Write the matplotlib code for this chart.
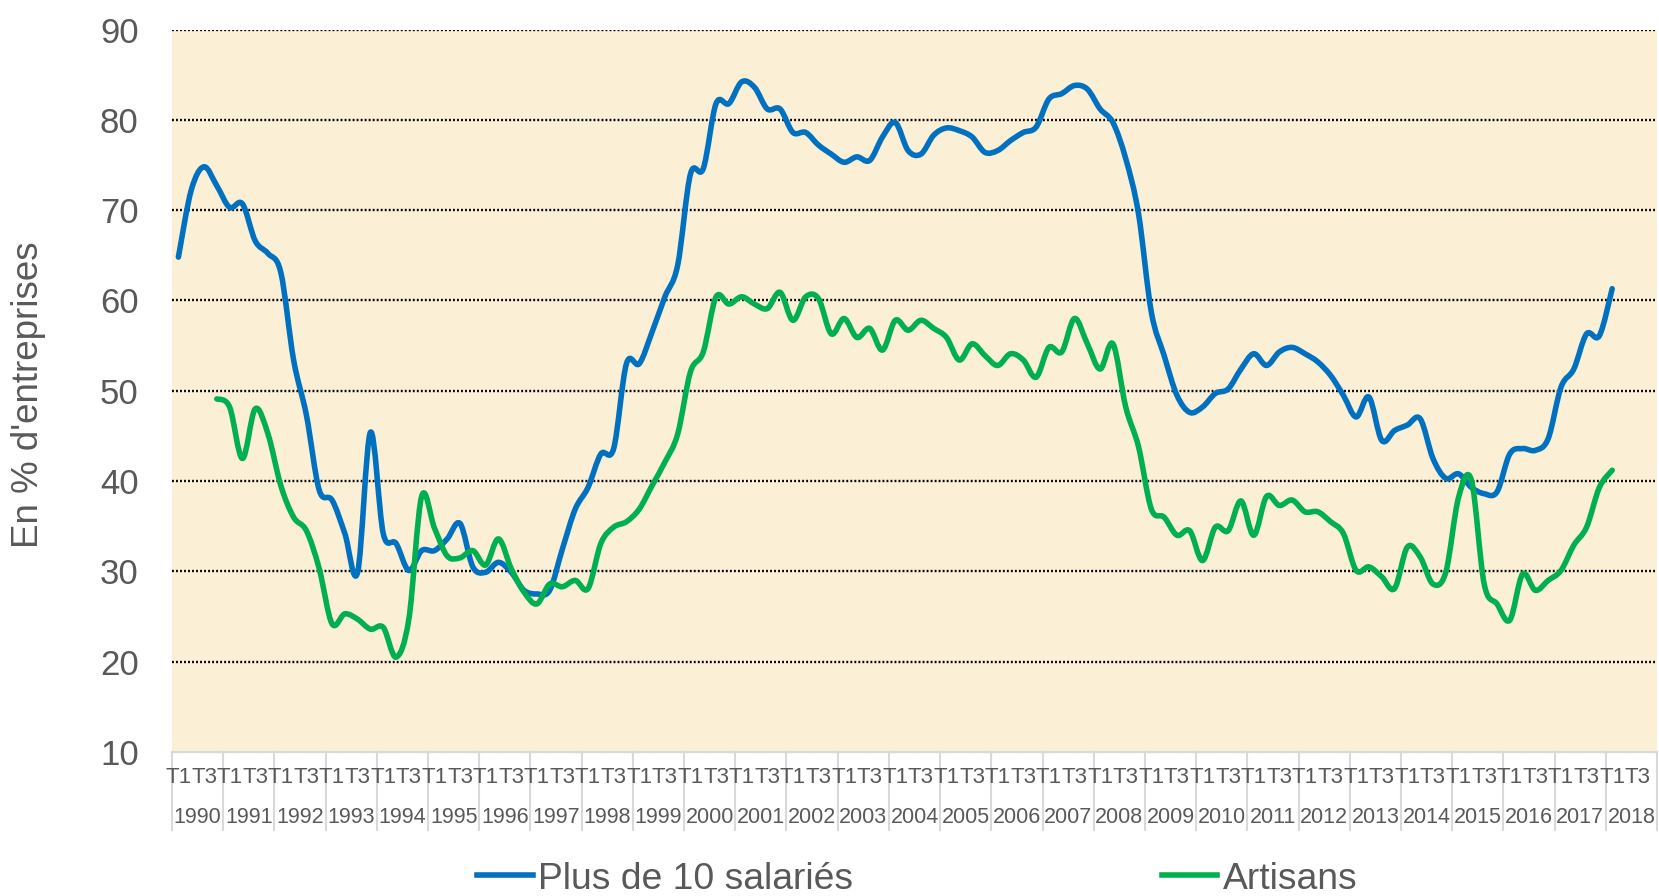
"""
Part des entreprises (en %) - Plus de 10 salariés vs Artisans, 1990-2018
"""

import numpy as np
import matplotlib
matplotlib.use('Agg')
import matplotlib.pyplot as plt
from matplotlib.path import Path
from matplotlib.patches import PathPatch
from matplotlib.lines import Line2D
from matplotlib.transforms import blended_transform_factory

plt.rcParams['font.family'] = ['Liberation Sans', 'DejaVu Sans']

# Colors
BLUE = '#0070C0'
GREEN = '#00B050'
TEXT_GREY = '#595959'
AXIS_GREY = '#D9D9D9'
PAPER = '#FBEFD6'

# Data (quarterly, 1990 T1 -> 2018 T4 on the axis)
years = list(range(1990, 2019))
quarter_names = ['T1', '', 'T3', '']

# Plus de 10 salariés : 1990 T1 -> 2018 T1
blue = [64.8, 72.2, 74.8, 72.7, 70.3, 70.7, 66.6, 65.2, 63.1, 53.4,
        47.3, 39.0, 37.9, 34.2, 29.9, 45.4, 34.2, 33.1, 30.1, 32.3,
        32.3, 33.6, 35.3, 30.5, 29.9, 31.0, 29.9, 27.9, 27.5, 27.9,
        32.5, 36.9, 39.3, 43.0, 43.6, 53.0, 53.0, 56.5, 60.4, 63.9,
        74.0, 74.6, 81.8, 81.8, 84.2, 83.6, 81.2, 81.2, 78.6, 78.6,
        77.2, 76.2, 75.3, 75.9, 75.5, 78.1, 79.7, 76.6, 76.2, 78.3,
        79.1, 78.8, 78.1, 76.4, 76.6, 77.7, 78.6, 79.2, 82.3, 82.9,
        83.8, 83.4, 81.2, 79.7, 75.7, 69.6, 58.7, 53.9, 49.5, 47.6,
        48.2, 49.7, 50.2, 52.4, 54.1, 52.8, 54.3, 54.8, 54.1, 53.2,
        51.7, 49.5, 47.1, 49.3, 44.5, 45.6, 46.2, 46.9, 42.5, 40.3,
        40.8, 39.3, 38.6, 38.8, 43.0, 43.6, 43.4, 44.7, 50.4, 52.4,
        56.3, 56.1, 61.3]

# Artisans : 1990 T4 -> 2018 T1
green_start = 3
green = [49.1, 48.2, 42.5, 48.0, 45.2, 39.5, 36.0, 34.5, 30.3, 24.2,
         25.3, 24.7, 23.6, 23.8, 20.5, 24.7, 38.3, 34.8, 31.7, 31.5,
         32.3, 30.7, 33.6, 30.3, 27.7, 26.4, 28.6, 28.3, 29.0, 28.1,
         33.1, 34.9, 35.5, 36.9, 39.5, 42.1, 45.2, 52.1, 54.3, 60.4,
         59.6, 60.4, 59.6, 59.1, 60.9, 57.8, 60.4, 60.2, 56.3, 58.0,
         55.9, 56.9, 54.5, 57.8, 56.7, 57.8, 56.9, 55.9, 53.4, 55.2,
         53.9, 52.8, 54.1, 53.4, 51.5, 54.8, 54.3, 58.0, 55.2, 52.4,
         55.2, 48.2, 43.8, 36.9, 36.0, 34.0, 34.5, 31.2, 34.9, 34.5,
         37.8, 34.0, 38.3, 37.3, 37.9, 36.6, 36.6, 35.5, 34.2, 30.1,
         30.5, 29.4, 28.1, 32.7, 31.6, 28.6, 29.9, 38.2, 40.1, 28.6,
         26.4, 24.6, 29.7, 27.9, 29.0, 30.1, 32.9, 34.9, 39.3, 41.2]

series = [('Plus de 10 salariés', blue, 0, BLUE),
          ('Artisans', green, green_start, GREEN)]


def smooth_path(x, y):
    """Excel-like smoothed line: Catmull-Rom segments as cubic Beziers."""
    pts = np.column_stack([x, y]).astype(float)
    n = len(pts)
    verts = [pts[0]]
    codes = [Path.MOVETO]
    for i in range(n - 1):
        p0 = pts[i - 1] if i > 0 else pts[i]
        p1, p2 = pts[i], pts[i + 1]
        p3 = pts[i + 2] if i + 2 < n else pts[i + 1]
        verts += [p1 + (p2 - p0) / 6, p2 - (p3 - p1) / 6, p2]
        codes += [Path.CURVE4] * 3
    return Path(verts, codes)


W, H = 1659, 896
fig = plt.figure(figsize=(W / 100, H / 100), dpi=100)
ax = fig.add_axes([172 / W, 1 - 752 / H, 1485 / W, (752 - 29.5) / H])

n_q = len(years) * 4
ax.set_xlim(-0.5, n_q - 0.5)
ax.set_ylim(10, 90)
ax.set_facecolor(PAPER)

# dotted horizontal grid
for v in range(20, 91, 10):
    ax.axhline(v, color='black', lw=1.7, ls=(0, (0.8, 0.9)), zorder=1)
ax.axhline(10, color='#C8C8C8', lw=1.0, ls=(0, (1, 1.5)), zorder=1,
           clip_on=False)

for name, vals, start, color in series:
    x = np.arange(start, start + len(vals))
    patch = PathPatch(smooth_path(x, vals), fill=False, edgecolor=color,
                      lw=4.0, capstyle='round', joinstyle='round', zorder=3)
    ax.add_patch(patch)

for side in ['left', 'right', 'top']:
    ax.spines[side].set_visible(False)
ax.spines['bottom'].set_color(AXIS_GREY)
ax.spines['bottom'].set_linewidth(1.5)

# y axis
ax.set_yticks(range(10, 91, 10))
ax.tick_params(axis='y', length=0, pad=24, labelsize=25, labelcolor=TEXT_GREY)

# x axis: quarter labels
ax.set_xticks(np.arange(n_q))
ax.set_xticklabels([quarter_names[i % 4] for i in range(n_q)])
ax.tick_params(axis='x', which='major', length=0, pad=11, labelsize=16,
               labelcolor=TEXT_GREY)

# year separators under the axis, behind the labels
trans = blended_transform_factory(ax.transData, ax.transAxes)
for k in range(len(years) + 1):
    ax.plot([k * 4 - 0.5] * 2, [0, -0.108], transform=trans, color=AXIS_GREY,
            lw=1.5, clip_on=False, zorder=1.2)

for k, yr in enumerate(years):
    ax.text(k * 4 + 1.5, -0.09, str(yr), transform=trans, ha='center',
            va='center', fontsize=15.5, color=TEXT_GREY)

fig.text(29 / W, 1 - 395 / H, "En % d'entreprises", rotation=90,
         ha='center', va='center', fontsize=26.5, color=TEXT_GREY)

handles = [Line2D([], [], color=c, lw=4.0) for _, _, _, c in series]
fig.legend(handles, [s[0] for s in series], ncol=2, loc='center left',
           bbox_to_anchor=(477 / W, 1 - 879 / H), frameon=False,
           fontsize=26.8, labelcolor=TEXT_GREY, handlelength=1.5,
           handletextpad=0.15, columnspacing=8.28, borderpad=0,
           borderaxespad=0)

fig.savefig('out.png', dpi=100)
